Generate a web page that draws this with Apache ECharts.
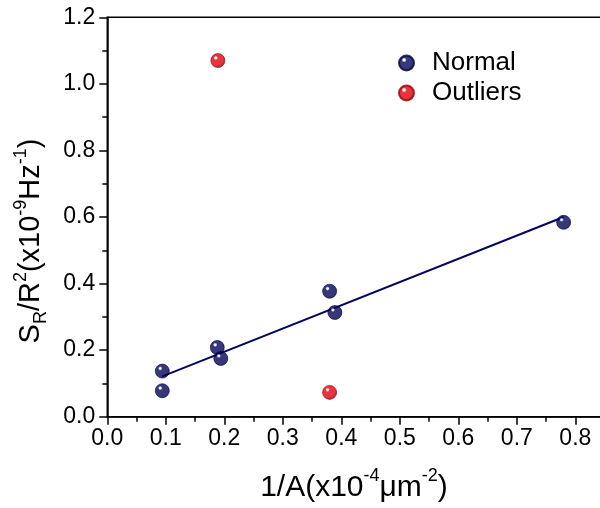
<!DOCTYPE html>
<html>
<head>
<meta charset="utf-8">
<script src="https://cdn.jsdelivr.net/npm/echarts@6/dist/echarts.min.js"></script>
<style>
html,body{margin:0;padding:0;background:#fff;}
#chart{width:600px;height:508px;}
</style>
</head>
<body>
<div id="chart"></div>
<script>
// ---- data ----
var normalX = [0.094, 0.094, 0.188, 0.194, 0.380, 0.389, 0.780];
var normalY = [0.137, 0.078, 0.208, 0.175, 0.377, 0.313, 0.584];
var outlierX = [0.189, 0.380];
var outlierY = [1.070, 0.073];
var fitX = [0.094, 0.780];
var fitY = [0.121, 0.600];
var seriesNames = ['Normal', 'Outliers'];
var xTicks = [0, 0.1, 0.2, 0.3, 0.4, 0.5, 0.6, 0.7, 0.8];

function pairs(xs, ys) { return xs.map(function (x, i) { return [x, ys[i]]; }); }
function sphere(c, dark) {
  return {
    type: 'radial', x: 0.36, y: 0.32, r: 0.68,
    colorStops: [
      { offset: 0, color: '#ffffff' },
      { offset: 0.08, color: '#ffffff' },
      { offset: 0.22, color: c },
      { offset: 0.7, color: c },
      { offset: 1, color: dark }
    ]
  };
}
var FONT = 'Liberation Sans, Arial, sans-serif';
var navy = '#05055e', red = '#e6000c';

var chart = echarts.init(document.getElementById('chart'));
chart.setOption({
  animation: false,
  backgroundColor: '#fff',
  textStyle: { fontFamily: FONT },
  grid: {
    left: 107.3, top: 17.3, right: -4.6, bottom: 91.3,
    show: true, borderColor: '#000', borderWidth: 1.5,
    outerBoundsMode: 'none', containLabel: false
  },
  legend: {
    orient: 'vertical', left: 393, top: 45,
    itemWidth: 15, itemHeight: 15, itemGap: 4,
    icon: 'circle',
    data: seriesNames,
    textStyle: { fontSize: 26, color: '#000', fontFamily: FONT, padding: [0, 0, 0, 13] }
  },
  xAxis: {
    type: 'value', min: 0, max: 0.85, interval: 0.1,
    axisLine: { show: true, onZero: false, lineStyle: { color: '#000', width: 1.5 } },
    axisTick: { show: true, inside: false, length: 8, lineStyle: { color: '#000', width: 1.5 },
      customValues: xTicks },
    minorTick: { show: true, splitNumber: 2, length: 5, lineStyle: { color: '#000', width: 1.5 } },
    splitLine: { show: false },
    axisLabel: { fontSize: 23, color: '#000', margin: 10, fontFamily: FONT,
      customValues: xTicks,
      formatter: function (v) { return v.toFixed(1); } }
  },
  yAxis: {
    type: 'value', min: 0, max: 1.2, interval: 0.2,
    axisLine: { show: true, onZero: false, lineStyle: { color: '#000', width: 1.5 } },
    axisTick: { show: true, inside: false, length: 8, lineStyle: { color: '#000', width: 1.5 } },
    minorTick: { show: true, splitNumber: 2, length: 5, lineStyle: { color: '#000', width: 1.5 } },
    splitLine: { show: false },
    axisLabel: { fontSize: 23, color: '#000', margin: 12, fontFamily: FONT,
      formatter: function (v) { return v.toFixed(1); } }
  },
  graphic: [
    {
      type: 'text', x: 354, y: 485,
      style: {
        text: '{m|1/A(x10}{s|-4}{m|μm}{s|-2}{m|)}',
        align: 'center', verticalAlign: 'middle', fill: '#000',
        rich: {
          m: { fontSize: 30, fontFamily: FONT, lineHeight: 35, verticalAlign: 'bottom' },
          s: { fontSize: 18, fontFamily: FONT, lineHeight: 35, verticalAlign: 'top' }
        }
      }
    },
    {
      type: 'text', x: 31, y: 241, rotation: Math.PI / 2,
      style: {
        text: '{m|S}{b|R}{m|/R}{s|2}{m|(x10}{s|-9}{m|Hz}{s|-1}{m|)}',
        align: 'center', verticalAlign: 'middle', fill: '#000',
        rich: {
          m: { fontSize: 29, fontFamily: FONT, lineHeight: 38, verticalAlign: 'middle' },
          s: { fontSize: 18, fontFamily: FONT, lineHeight: 38, verticalAlign: 'top' },
          b: { fontSize: 18, fontFamily: FONT, lineHeight: 38, verticalAlign: 'bottom' }
        }
      }
    }
  ],
  series: [
    {
      name: 'fit', type: 'line', data: pairs(fitX, fitY),
      symbol: 'none', lineStyle: { color: navy, width: 2 }, z: 1,
      silent: true
    },
    {
      name: seriesNames[0], type: 'scatter', data: pairs(normalX, normalY),
      symbol: 'circle', symbolSize: 14, z: 3,
      itemStyle: { color: sphere(navy, '#020228'), borderColor: '#03033a', borderWidth: 0.8 }
    },
    {
      name: seriesNames[1], type: 'scatter', data: pairs(outlierX, outlierY),
      symbol: 'circle', symbolSize: 14, z: 3,
      itemStyle: { color: sphere(red, '#8a0006'), borderColor: '#9a0008', borderWidth: 0.8 }
    }
  ]
});
</script>
</body>
</html>
